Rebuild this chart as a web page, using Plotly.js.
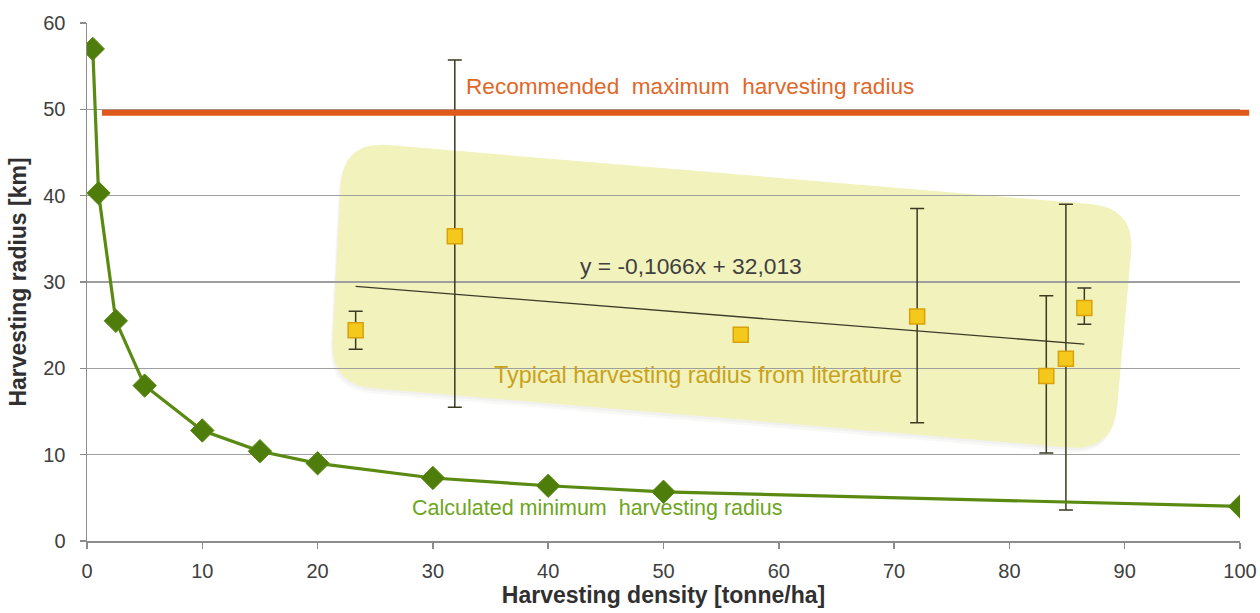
<!DOCTYPE html>
<html>
<head>
<meta charset="utf-8">
<script src="https://cdn.plot.ly/plotly-3.0.1.min.js"></script>
<style>html,body{margin:0;padding:0;background:#fff;}#chart{width:1260px;height:613px;}</style>
</head>
<body>
<div id="chart"></div>
<script>
// ---- data ----
const calcDensity = [0.5, 1, 2.5, 5, 10, 15, 20, 30, 40, 50, 100];
const calcRadius  = [57.0, 40.3, 25.5, 18.0, 12.8, 10.4, 9.0, 7.3, 6.4, 5.7, 4.0];

const litDensity   = [23.3, 31.9, 56.7, 72.0, 83.2, 84.9, 86.5];
const litRadius    = [24.4, 35.3, 23.9, 26.0, 19.1, 21.1, 27.0];
const litErrPlus   = [2.2, 20.4, 0, 12.5, 9.3, 17.9, 2.3];
const litErrMinus  = [2.2, 19.8, 0, 12.3, 8.9, 17.5, 1.9];

const trendX = [23.3, 86.5];
const trendY = [29.5, 22.8];

const recommendedMax = 49.6;
const recommendedFrom = 1.3;
const recommendedTo = 100.8;

const xTicks = [0,10,20,30,40,50,60,70,80,90,100];
const yTicks = [0,10,20,30,40,50,60];
const xRange = [0, 100];

// ---- decoration: rounded slanted box (data units) ----
const boxCorners = [[22.2,46.3],[90.9,38.6],[89.0,10.4],[21.1,18.1]];
const PXX = 11.53, PXY = 8.63, R = 45;
function roundedPath(corners, dx, dy){
  const n = corners.length;
  const P = corners.map(c => [c[0]*PXX + dx, -c[1]*PXY + dy]);
  const toD = p => (p[0]/PXX).toFixed(3) + ',' + (-p[1]/PXY).toFixed(3);
  let s = '';
  for (let i=0;i<n;i++){
    const prev = P[(i-1+n)%n], cur = P[i], next = P[(i+1)%n];
    const a = [prev[0]-cur[0], prev[1]-cur[1]], la = Math.hypot(a[0],a[1]);
    const b = [next[0]-cur[0], next[1]-cur[1]], lb = Math.hypot(b[0],b[1]);
    const p1 = [cur[0]+a[0]/la*R, cur[1]+a[1]/la*R];
    const p2 = [cur[0]+b[0]/lb*R, cur[1]+b[1]/lb*R];
    s += (i===0 ? 'M ' : ' L ') + toD(p1) + ' Q ' + toD(cur) + ' ' + toD(p2);
  }
  return s + ' Z';
}

const FONT = 'Liberation Sans, Arial, sans-serif';

const traces = [
  {
    x: trendX, y: trendY, mode: 'lines', type: 'scatter',
    line: {color: '#3c3c28', width: 1.3}, hoverinfo: 'skip', showlegend: false
  },
  {
    x: litDensity, y: litRadius, mode: 'markers', type: 'scatter',
    marker: {symbol: 'square', size: 15, color: '#f5c81c', line: {color: '#d8a20c', width: 1.5}},
    error_y: {type: 'data', symmetric: false, array: litErrPlus, arrayminus: litErrMinus,
              color: '#3a3a22', thickness: 1.5, width: 7},
    showlegend: false
  },
  {
    x: calcDensity, y: calcRadius, mode: 'lines+markers', type: 'scatter',
    line: {color: '#5a8a12', width: 3.2},
    marker: {symbol: 'diamond', size: 18, color: '#4f7d0c', line: {color: '#5a8a12', width: 1}},
    showlegend: false
  }
];

const layout = {
  width: 1260, height: 613,
  margin: {l: 87, r: 20, t: 23, b: 72},
  paper_bgcolor: '#ffffff', plot_bgcolor: 'rgba(0,0,0,0)',
  font: {family: FONT, color: '#404040'},
  xaxis: {
    range: xRange, tickvals: xTicks, ticktext: xTicks.map(String),
    showgrid: false, zeroline: false, showline: true, linecolor: '#8c8c8c', linewidth: 1.5,
    ticks: 'outside', ticklen: 6, tickcolor: '#8c8c8c', tickwidth: 1.5,
    ticklabelstandoff: 5,
    tickfont: {size: 20, color: '#404040'},
    title: {text: 'Harvesting density [tonne/ha]', font: {size: 23, color: '#303030', family: FONT, weight: 'bold'}, standoff: 6}
  },
  yaxis: {
    range: [0, 60], tickvals: yTicks, ticktext: yTicks.map(String),
    showgrid: true, gridcolor: '#9f9f9f', gridwidth: 1.2,
    zeroline: false, showline: true, linecolor: '#8c8c8c', linewidth: 1.5,
    ticks: 'outside', ticklen: 6, tickcolor: '#8c8c8c', tickwidth: 1.5,
    ticklabelstandoff: 10,
    tickfont: {size: 20, color: '#404040'},
    title: {text: 'Harvesting radius [km]', font: {size: 23, color: '#303030', family: FONT, weight: 'bold'}, standoff: 10}
  },
  shapes: [
    {type: 'path', xref: 'x', yref: 'y', layer: 'below', path: roundedPath(boxCorners, -2, 5),
     fillcolor: 'rgba(120,120,90,0.05)', line: {width: 0}},
    {type: 'path', xref: 'x', yref: 'y', layer: 'below', path: roundedPath(boxCorners, -1, 2.5),
     fillcolor: 'rgba(120,120,90,0.05)', line: {width: 0}},
    {type: 'path', xref: 'x', yref: 'y', layer: 'below', path: roundedPath(boxCorners, 0, 0),
     fillcolor: '#f2f2bd', line: {width: 0}},
    {type: 'line', xref: 'paper', yref: 'y',
     x0: (recommendedFrom - xRange[0]) / (xRange[1] - xRange[0]),
     x1: (recommendedTo - xRange[0]) / (xRange[1] - xRange[0]),
     y0: recommendedMax, y1: recommendedMax,
     line: {color: '#e0591a', width: 6}}
  ],
  annotations: [
    {x: 32.7, y: 52.7, xref: 'x', yref: 'y', xanchor: 'left', yanchor: 'middle', showarrow: false,
     text: 'Recommended\u00a0 maximum\u00a0 harvesting radius', font: {size: 22.6, color: '#e0672a'}},
    {x: 42.6, y: 31.9, xref: 'x', yref: 'y', xanchor: 'left', yanchor: 'middle', showarrow: false,
     text: 'y = -0,1066x + 32,013', font: {size: 22.8, color: '#404040'}},
    {x: 35.1, y: 19.2, xref: 'x', yref: 'y', xanchor: 'left', yanchor: 'middle', showarrow: false,
     text: 'Typical harvesting radius from literature', font: {size: 23.4, color: '#c9a21c'}},
    {x: 28.0, y: 3.8, xref: 'x', yref: 'y', xanchor: 'left', yanchor: 'middle', showarrow: false,
     text: 'Calculated minimum\u00a0 harvesting radius', font: {size: 21.5, color: '#6ea520'}}
  ]
};

Plotly.newPlot('chart', traces, layout, {displayModeBar: false, staticPlot: true});
</script>
</body>
</html>
